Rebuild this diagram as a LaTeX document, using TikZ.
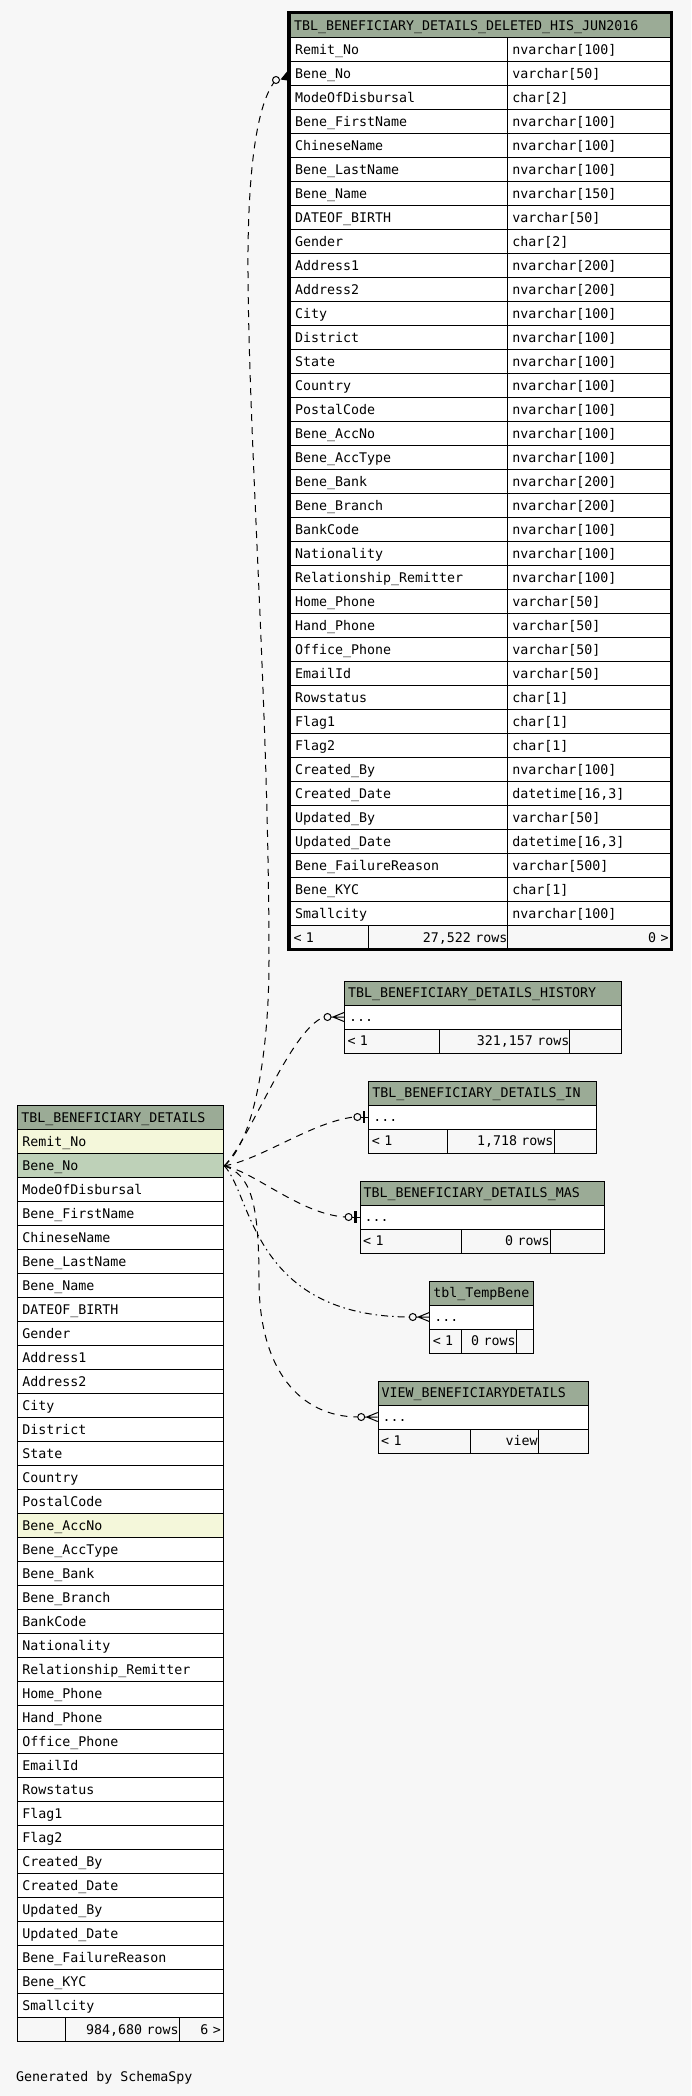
\documentclass[tikz,border=0pt]{standalone}
\usepackage{fontspec}
\usepackage{xcolor}
\usepackage{tikz}
\usetikzlibrary{calc}
\newfontfamily\erfont{DejaVu Sans Mono}
\definecolor{pagebg}{RGB}{247,247,247}
\definecolor{headbg}{RGB}{155,171,150}
\definecolor{pkbg}{RGB}{190,209,184}
\definecolor{idxbg}{RGB}{244,247,218}

\def\benecols{Remit\_No/nvarchar[100], Bene\_No/varchar[50], ModeOfDisbursal/char[2], Bene\_FirstName/nvarchar[100], ChineseName/nvarchar[100], Bene\_LastName/nvarchar[100], Bene\_Name/nvarchar[150], DATEOF\_BIRTH/varchar[50], Gender/char[2], Address1/nvarchar[200], Address2/nvarchar[200], City/nvarchar[100], District/nvarchar[100], State/nvarchar[100], Country/nvarchar[100], PostalCode/nvarchar[100], Bene\_AccNo/nvarchar[100], Bene\_AccType/nvarchar[100], Bene\_Bank/nvarchar[200], Bene\_Branch/nvarchar[200], BankCode/nvarchar[100], Nationality/nvarchar[100], Relationship\_Remitter/nvarchar[100], Home\_Phone/varchar[50], Hand\_Phone/varchar[50], Office\_Phone/varchar[50], EmailId/varchar[50], Rowstatus/char[1], Flag1/char[1], Flag2/char[1], Created\_By/nvarchar[100], Created\_Date/{datetime[16,3]}, Updated\_By/varchar[50], Updated\_Date/{datetime[16,3]}, Bene\_FailureReason/varchar[500], Bene\_KYC/char[1], Smallcity/nvarchar[100]}

\tikzset{
  cell/.style={draw=black, line width=1pt, fill=white, anchor=north west, minimum height=24pt,
    inner xsep=4.5pt, inner ysep=0pt, text height=9.6pt, text depth=0pt, align=left},
  headcell/.style={cell, fill=headbg, inner xsep=3.5pt},
  footcell/.style={cell, fill=pagebg},
  rel/.style={line width=1pt, dash pattern=on 7pt off 6pt},
  reldot/.style={line width=1pt, dash pattern=on 7pt off 4pt on 1.5pt off 4pt},
  endmark/.style={line width=1pt, fill=pagebg}
}

\begin{document}
\begin{tikzpicture}[x=1pt, y=-1pt, every node/.style={font=\erfont\fontsize{13.3}{15}\selectfont}]
\fill[pagebg] (0,0) rectangle (691,2096);
\useasboundingbox (0,0) rectangle (691,2096);

\node[headcell, text width=374.6pt, minimum height=24.9pt] (del-h) at (290,12.4) {TBL\_BENEFICIARY\_DETAILS\_DELETED\_HIS\_JUN2016};
\foreach \cname/\ctype [count=\r] in \benecols {
  \node[cell, text width=208.3pt] (del-\r) at (290,{37.3+24*(\r-1)}) {\cname};
  \node[cell, text width=155.3pt] (deltype-\r) at (507.3,{37.3+24*(\r-1)}) {\ctype};
}
\node[footcell, text width=72.3pt, inner xsep=3pt] (del-f1) at (290,925.3) {< 1};
\node[footcell, text width=138pt, inner xsep=0.5pt, align=right] (del-f2) at (368.3,925.3) {27,522 rows};
\node[footcell, text width=157.3pt, inner xsep=3.5pt, align=right] (del-f3) at (507.3,925.3) {0 >};
\draw[line width=3.4pt] (289,12.4) rectangle (671.6,949.3);

\node[headcell, text width=199pt, minimum height=24.3pt] (ben-h) at (17.3,1105) {TBL\_BENEFICIARY\_DETAILS};
\foreach \cname/\ctype [count=\r] in \benecols {
  \def\rowfill{white}
  \ifnum\r=1 \def\rowfill{idxbg}\fi
  \ifnum\r=2 \def\rowfill{pkbg}\fi
  \ifnum\r=17 \def\rowfill{idxbg}\fi
  \node[cell, fill=\rowfill, text width=197pt] (ben-\r) at (17.3,{1129.3+24*(\r-1)}) {\cname};
}
\node[footcell, text width=39pt] (ben-f1) at (17.3,2017.3) {};
\node[footcell, text width=112.4pt, inner xsep=0.5pt, align=right] (ben-f2) at (65.3,2017.3) {984,680 rows};
\node[footcell, text width=38.6pt, inner xsep=3pt, align=right] (ben-f3) at (178.7,2017.3) {6 >};

\foreach \tb/\ttl/\xl/\yt/\xa/\xb/\xr/\cnt in {
  hist/TBL\_BENEFICIARY\_DETAILS\_HISTORY/344/980.5/439.4/569.4/621.4/{321,157 rows},
  in/TBL\_BENEFICIARY\_DETAILS\_IN/368.4/1080.5/447.3/553.5/596.3/{1,718 rows},
  mas/TBL\_BENEFICIARY\_DETAILS\_MAS/359.6/1180.5/460.5/549.6/604.2/0 rows,
  temp/tbl\_TempBene/429.3/1280.5/460.5/515.6/533.3/0 rows,
  view/VIEW\_BENEFICIARYDETAILS/377.7/1380.5/469.8/537.7/587.5/view} {
  \pgfmathsetmacro\tw{\xr-\xl-7}
  \pgfmathsetmacro\twd{\xr-\xl-9}
  \pgfmathsetmacro\twa{\xa-\xl-6}
  \pgfmathsetmacro\twb{\xb-\xa-1}
  \pgfmathsetmacro\twc{\xr-\xb-9}
  \node[headcell, text width=\tw pt] (\tb-h) at (\xl,\yt) {\ttl};
  \node[cell, text width=\twd pt] (\tb-d) at (\xl,{\yt+24}) {...};
  \node[footcell, text width=\twa pt, inner xsep=3pt] (\tb-f1) at (\xl,{\yt+48}) {< 1};
  \node[footcell, text width=\twb pt, inner xsep=0.5pt, align=right] (\tb-f2) at (\xa,{\yt+48}) {\cnt};
  \node[footcell, text width=\twc pt] (\tb-f3) at (\xb,{\yt+48}) {};
}

\coordinate (del-o) at (276,80);
\coordinate (del-end) at (273.8,82.6);
\draw[rel] (ben-2.east) .. controls (255,1140) and (269,1050) .. (269,960)
  .. controls (269,700) and (247,420) .. (248,250)
  .. controls (249,160) and (258,105) .. (del-end);
\draw[rel] (ben-2.east) .. controls (250,1140) and (290,1030) .. ([xshift=-20pt]hist-d.west);
\draw[rel] (ben-2.east) .. controls (260,1160) and (312,1122) .. ([xshift=-14.5pt]in-d.west);
\draw[rel] (ben-2.east) .. controls (255,1172) and (300,1214) .. ([xshift=-14.5pt]mas-d.west);
\draw[reldot] (ben-2.east) .. controls (252,1195) and (252,1316) .. ([xshift=-20pt]temp-d.west);
\draw[rel] (ben-2.east) .. controls (250,1175) and (259,1200) .. (259,1280)
  .. controls (259,1370) and (300,1416.5) .. ([xshift=-20pt]view-d.west);

\draw[endmark] (del-o) circle (3.5pt);
\fill (280.5,79.5) -- (287.5,71) -- (287.5,80.5) -- cycle;
\foreach \tb in {hist,temp,view} {
  \draw[endmark] ([xshift=-16.5pt]\tb-d.west) circle (3.5pt);
  \draw[line width=1pt] ([xshift=-13pt]\tb-d.west) -- (\tb-d.west)
    ([xshift=-11pt]\tb-d.west) -- ([yshift=4.5pt]\tb-d.west)
    ([xshift=-11pt]\tb-d.west) -- ([yshift=-4.5pt]\tb-d.west);
}
\foreach \tb in {in,mas} {
  \draw[endmark] ([xshift=-11pt]\tb-d.west) circle (3.5pt);
  \draw[line width=1pt] ([xshift=-7.5pt]\tb-d.west) -- (\tb-d.west);
  \draw[line width=2.6pt] ([xshift=-4.4pt,yshift=6pt]\tb-d.west) -- ([xshift=-4.4pt,yshift=-6pt]\tb-d.west);
}

\node[anchor=base west, inner sep=0pt] (gen) at (16,2081.7) {Generated by SchemaSpy};
\end{tikzpicture}
\end{document}
